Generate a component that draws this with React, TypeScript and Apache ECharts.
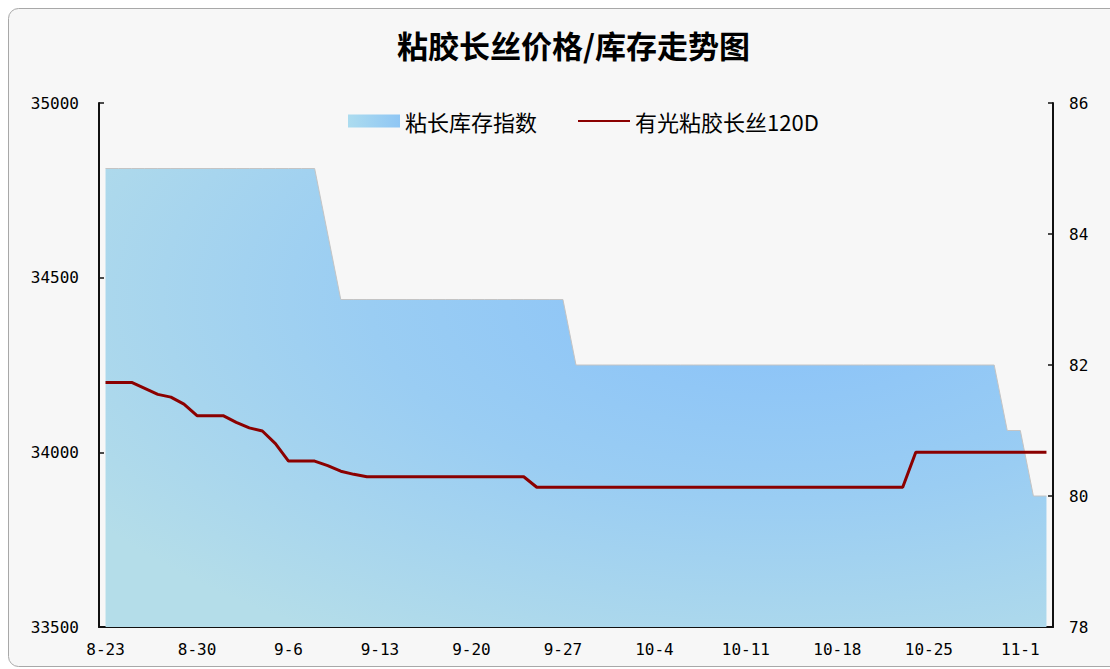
import React, { useEffect, useRef } from "react";
import * as echarts from "echarts";

const dates: string[] = [
  "8-23", "8-24", "8-25", "8-26", "8-27", "8-28", "8-29", "8-30", "8-31",
  "9-1", "9-2", "9-3", "9-4", "9-5", "9-6", "9-7", "9-8", "9-9", "9-10",
  "9-11", "9-12", "9-13", "9-14", "9-15", "9-16", "9-17", "9-18", "9-19", "9-20",
  "9-21", "9-22", "9-23", "9-24", "9-25", "9-26", "9-27", "9-28", "9-29", "9-30",
  "10-1", "10-2", "10-3", "10-4", "10-5", "10-6", "10-7", "10-8", "10-9", "10-10",
  "10-11", "10-12", "10-13", "10-14", "10-15", "10-16", "10-17", "10-18", "10-19", "10-20",
  "10-21", "10-22", "10-23", "10-24", "10-25", "10-26", "10-27", "10-28", "10-29", "10-30",
  "10-31", "11-1", "11-2", "11-3",
];

// 有光粘胶长丝120D (left axis, price)
const priceValues: number[] = [
  34200, 34200, 34200, 34183, 34166, 34158, 34138, 34105, 34105, 34105,
  34086, 34070, 34061, 34025, 33975, 33975, 33975, 33962, 33946, 33937,
  33930, 33930, 33930, 33930, 33930, 33930, 33930, 33930, 33930, 33930,
  33930, 33930, 33930,
  33900, 33900, 33900, 33900, 33900, 33900, 33900, 33900, 33900, 33900,
  33900, 33900, 33900, 33900, 33900, 33900, 33900, 33900, 33900, 33900,
  33900, 33900, 33900, 33900, 33900, 33900, 33900, 33900, 33900,
  34000, 34000, 34000, 34000, 34000, 34000, 34000, 34000, 34000, 34000, 34000,
];

// 粘长库存指数 (right axis, inventory index)
const inventoryValues: number[] = [
  85, 85, 85, 85, 85, 85, 85, 85, 85, 85, 85, 85, 85, 85, 85, 85, 85,
  84,
  83, 83, 83, 83, 83, 83, 83, 83, 83, 83, 83, 83, 83, 83, 83, 83, 83, 83,
  82, 82, 82, 82, 82, 82, 82, 82, 82, 82, 82, 82, 82, 82, 82, 82, 82,
  82, 82, 82, 82, 82, 82, 82, 82, 82, 82, 82, 82, 82, 82, 82, 82,
  81, 81,
  80, 80,
];

const leftTicks = { min: 33500, max: 35000, interval: 500 };
const rightTicks = { min: 78, max: 86, interval: 2 };

const TITLE = "粘胶长丝价格/库存走势图";
const SERIES_AREA = "粘长库存指数";
const SERIES_LINE = "有光粘胶长丝120D";

export default function App() {
  const ref = useRef<HTMLDivElement>(null);

  useEffect(() => {
    if (!ref.current) return;
    const chart = echarts.init(ref.current, null, { renderer: "svg" });
    const mono = "DejaVu Sans Mono";
    const cjk = "Noto Sans CJK SC";
    const axisLabel = { color: "#000", fontSize: 16, fontFamily: mono };
    const axisLine = { show: true, lineStyle: { color: "#111", width: 2 } };
    const axisTick = { show: true, inside: true, length: 5, lineStyle: { color: "#111", width: 1.5 } };

    chart.setOption({
      animation: false,
      backgroundColor: "#ffffff",
      graphic: [
        {
          type: "rect",
          z: -100,
          silent: true,
          shape: { x: 8.5, y: 8.5, width: 1130, height: 658, r: 10 },
          style: { fill: "#f7f7f7", stroke: "#a8a8a8", lineWidth: 1 },
        },
      ],
      title: {
        text: TITLE,
        left: 392,
        top: 24,
        textStyle: { fontFamily: cjk, fontSize: 31, fontWeight: "bold", color: "#000" },
      },
      legend: {
        left: 343,
        top: 105,
        itemWidth: 52,
        itemHeight: 13,
        itemGap: 40,
        textStyle: { fontFamily: cjk, fontSize: 22, color: "#000" },
        data: [
          {
            name: SERIES_AREA,
            icon: "rect",
            itemStyle: {
              color: new echarts.graphic.LinearGradient(0, 0, 1, 0, [
                { offset: 0, color: "#acdcef" },
                { offset: 1, color: "#8fc6f4" },
              ]),
              borderWidth: 0,
            },
          },
          { name: SERIES_LINE, itemStyle: { opacity: 0 } },
        ],
      },
      grid: { left: 99, right: 57, top: 103, bottom: 42, containLabel: false },
      xAxis: {
        type: "category",
        data: dates,
        boundaryGap: true,
        axisLine,
        axisTick: { ...axisTick, interval: 6 },
        axisLabel: { ...axisLabel, interval: 6, margin: 14 },
        splitLine: { show: false },
      },
      yAxis: [
        {
          type: "value",
          position: "left",
          ...leftTicks,
          axisLine,
          axisTick,
          axisLabel: { ...axisLabel, margin: 20, formatter: (v: number) => String(v) },
          splitLine: { show: false },
        },
        {
          type: "value",
          position: "right",
          ...rightTicks,
          axisLine,
          axisTick,
          axisLabel: { ...axisLabel, margin: 16, formatter: (v: number) => String(v) },
          splitLine: { show: false },
        },
      ],
      series: [
        {
          name: SERIES_AREA,
          type: "line",
          yAxisIndex: 1,
          data: inventoryValues,
          symbol: "none",
          z: 1,
          lineStyle: { color: "#c4c4c4", width: 1 },
          itemStyle: { color: "#9fd2f0" },
          areaStyle: {
            origin: "start",
            opacity: 1,
            color: new echarts.graphic.RadialGradient(0.72, 0.28, 0.88, [
              { offset: 0, color: "#88c1f9" },
              { offset: 0.5, color: "#9acdf3" },
              { offset: 1, color: "#b4dde9" },
            ]),
          },
        },
        {
          name: SERIES_LINE,
          type: "line",
          yAxisIndex: 0,
          data: priceValues,
          symbol: "none",
          z: 3,
          lineStyle: { color: "#8b0000", width: 3 },
          itemStyle: { color: "#8b0000" },
        },
      ],
    });
    return () => chart.dispose();
  }, []);

  return (
    <div
      ref={ref}
      style={{ position: "absolute", left: 0, top: 0, width: 1110, height: 669 }}
    />
  );
}
